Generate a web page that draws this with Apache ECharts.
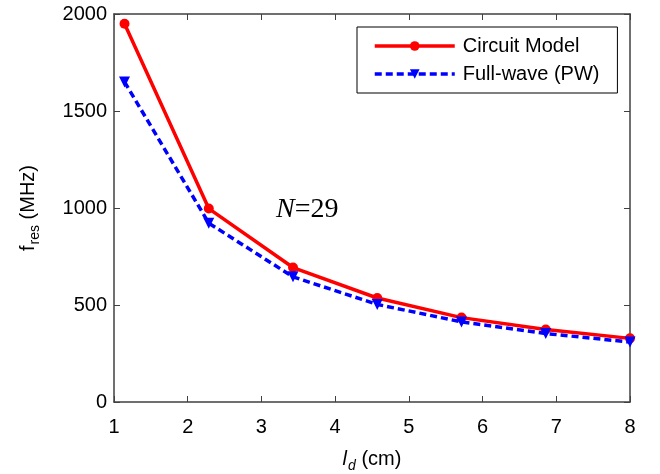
<!DOCTYPE html>
<html>
<head>
<meta charset="utf-8">
<script src="https://cdn.jsdelivr.net/npm/echarts@6/dist/echarts.min.js"></script>
<style>
  html, body { margin: 0; padding: 0; background: #fff; }
  #chart { width: 660px; height: 474px; }
</style>
</head>
<body>
<div id="chart"></div>
<script>
// Dipole length l_d (cm) for each sample
const lengths = [8/7, 16/7, 24/7, 32/7, 40/7, 48/7, 8];
// Resonant frequency (MHz), circuit model
const circuitModel = [1950, 997, 693, 536, 435, 374, 328];
// Resonant frequency (MHz), full-wave (PW) simulation
const fullWave = [1650, 922, 645, 503, 413, 353, 309];
// Axis ticks
const xTicks = [1, 2, 3, 4, 5, 6, 7, 8];
const yTicks = [0, 500, 1000, 1500, 2000];

const axisColor = '#404040';
const font = 'Liberation Sans, Arial, sans-serif';
const fs = 20;

const chart = echarts.init(document.getElementById('chart'), null, { renderer: 'canvas' });

const pair = (xs, ys) => xs.map((x, i) => [x, ys[i]]);

const baseX = {
  type: 'value',
  min: xTicks[0],
  max: xTicks[xTicks.length - 1],
  interval: 1,
  splitLine: { show: false },
  axisLine: { show: true, onZero: false, lineStyle: { color: axisColor, width: 1.5 } },
  axisTick: { show: true, inside: true, length: 6, lineStyle: { color: axisColor, width: 1 } }
};
const baseY = {
  type: 'value',
  min: yTicks[0],
  max: yTicks[yTicks.length - 1],
  interval: 500,
  splitLine: { show: false },
  axisLine: { show: true, onZero: false, lineStyle: { color: axisColor, width: 1.5 } },
  axisTick: { show: true, inside: true, length: 6, lineStyle: { color: axisColor, width: 1 } }
};

chart.setOption({
  backgroundColor: '#ffffff',
  animation: false,
  grid: { left: 114, right: 30, top: 14, bottom: 72, containLabel: false, outerBoundsMode: 'none' },
  xAxis: [
    Object.assign({}, baseX, {
      position: 'bottom',
      axisLabel: { color: '#000', fontFamily: font, fontSize: fs, margin: 15 },
      name: '{i|l}{sub|d} (cm)',
      nameLocation: 'middle',
      nameGap: 43,
      nameTextStyle: {
        color: '#000', fontFamily: font, fontSize: fs,
        rich: {
          i: { fontFamily: font, fontSize: fs, fontStyle: 'italic', color: '#000' },
          sub: { fontFamily: font, fontSize: 14, fontStyle: 'italic', color: '#000', padding: [14, 0, 0, 1] }
        }
      }
    }),
    Object.assign({}, baseX, { position: 'top', axisLabel: { show: false } })
  ],
  yAxis: [
    Object.assign({}, baseY, {
      position: 'left',
      axisLabel: { color: '#000', fontFamily: font, fontSize: fs, margin: 7, formatter: v => String(v) },
      name: 'f{sub|res} (MHz)',
      nameLocation: 'middle',
      nameRotate: 90,
      nameGap: 72,
      nameTextStyle: {
        color: '#000', fontFamily: font, fontSize: fs,
        rich: {
          sub: { fontFamily: font, fontSize: 14, color: '#000', padding: [14, 0, 0, 1] }
        }
      }
    }),
    Object.assign({}, baseY, { position: 'right', axisLabel: { show: false } })
  ],
  legend: {
    show: true,
    left: 357,
    top: 27,
    orient: 'vertical',
    itemWidth: 80,
    itemHeight: 12,
    itemGap: 8,
    padding: [9, 18, 9, 16],
    borderColor: '#000',
    borderWidth: 1,
    backgroundColor: '#fff',
    lineStyle: { width: 3.5 },
    textStyle: { color: '#000', fontFamily: font, fontSize: fs, padding: [0, 0, 0, 3] },
    data: ['Circuit Model', 'Full-wave (PW)']
  },
  series: [
    {
      name: 'Circuit Model',
      type: 'line',
      data: pair(lengths, circuitModel),
      xAxisIndex: 0, yAxisIndex: 0,
      color: '#ff0000',
      lineStyle: { color: '#ff0000', width: 3.5 },
      itemStyle: { color: '#ff0000' },
      symbol: 'circle',
      symbolSize: 10,
      z: 2
    },
    {
      name: 'Full-wave (PW)',
      type: 'line',
      data: pair(lengths, fullWave),
      xAxisIndex: 0, yAxisIndex: 0,
      color: '#0000ff',
      lineStyle: { color: '#0000ff', width: 3.5, type: [7, 4] },
      itemStyle: { color: '#0000ff' },
      symbol: 'triangle',
      symbolRotate: 180,
      symbolSize: 11,
      z: 3
    }
  ],
  graphic: [
    {
      type: 'text',
      left: 276,
      top: 196,
      style: {
        text: '{n|N}{r|=29}',
        rich: {
          n: { fontFamily: 'Liberation Serif, Times New Roman, serif', fontStyle: 'italic', fontSize: 28, fill: '#000' },
          r: { fontFamily: 'Liberation Serif, Times New Roman, serif', fontSize: 28, fill: '#000' }
        }
      }
    }
  ]
});
</script>
</body>
</html>
